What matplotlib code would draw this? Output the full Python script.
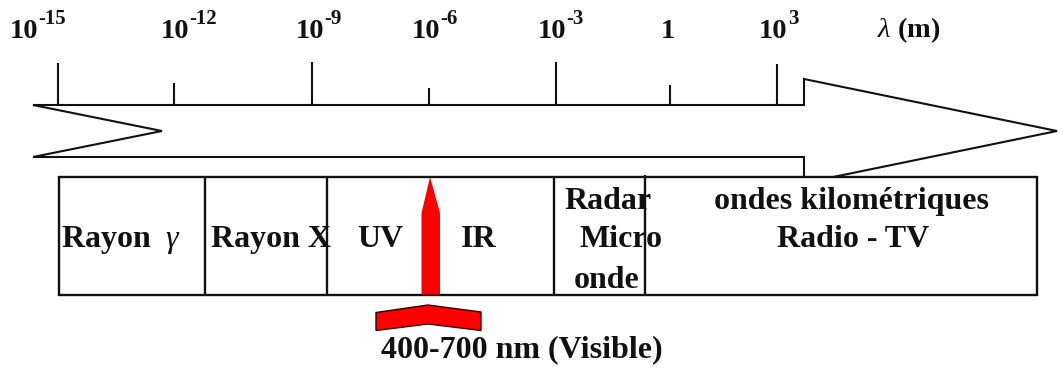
"""
Spectre électromagnétique : échelle des longueurs d'onde (schéma).
"""

import matplotlib

matplotlib.use("Agg")
import matplotlib.pyplot as plt  # noqa: E402
from matplotlib.patches import Polygon, Rectangle  # noqa: E402

plt.rcParams["font.family"] = ["Liberation Serif", "DejaVu Serif"]
plt.rcParams["mathtext.fontset"] = "custom"
plt.rcParams["mathtext.it"] = "Liberation Serif:italic"
plt.rcParams["mathtext.rm"] = "Liberation Serif"
plt.rcParams["mathtext.bf"] = "Liberation Serif:bold"

# Graduations de l'échelle (puissances de 10, en mètres)
exposants = [-15, -12, -9, -6, -3, 0, 3]
graduations_x = [58, 174, 312, 429, 556, 670, 777]
graduations_haut = [63, 83, 62, 88, 62, 85, 64]
etiquettes_cx = [24, 175, 310, 426, 552, 668, 773]

# Domaines du spectre (bornes des cases)
bornes_x = [58.5, 204.5, 327, 554, 645, 1037]
domaines = ["Rayon  $\\gamma$", "Rayon X", "UV", "IR",
            "Radar", "Micro", "onde", "ondes kilométriques", "Radio - TV"]
domaines_pos = [(121, 246.7), (271, 246.7), (380, 246.7), (479, 246.7),
                (608, 209.3), (621, 247), (606.5, 288.3),
                (851, 209.3), (853.5, 247.3)]

visible_x = 430.5
visible_texte = "400-700 nm (Visible)"

NOIR = "#111111"
ROUGE = "#ff0000"
LW = 1.5
TAILLE_ECHELLE = 20.5
TAILLE_EXPOSANT = 15

fig = plt.figure(figsize=(10.64, 3.71), dpi=100)
ax = fig.add_axes([0, 0, 1, 1])
ax.set_xlim(0, 1064)
ax.set_ylim(371, 0)
ax.axis("off")

# Grande flèche (bande de l'échelle)
haut, bas, milieu = 105, 157, 131
epaule, pointe = 804, 1057
fleche = Polygon(
    [(33, haut), (epaule, haut), (epaule, 79), (pointe, milieu),
     (epaule, 183), (epaule, bas), (33, bas), (162, milieu)],
    closed=True, facecolor="white", edgecolor=NOIR, lw=LW, zorder=1,
)
ax.add_patch(fleche)

# Traits de graduation
ax.vlines(graduations_x, graduations_haut, haut, color=NOIR, lw=LW, zorder=2)

# Étiquettes des graduations : "10" + exposant
for e, cx in zip(exposants, etiquettes_cx):
    if e == 0:
        ax.text(cx, 37.5, "1", ha="center", va="baseline",
                fontsize=TAILLE_ECHELLE, fontweight="bold", color=NOIR)
        continue
    ax.text(cx, 37.5, "10", ha="center", va="baseline",
            fontsize=TAILLE_ECHELLE, fontweight="bold", color=NOIR)
    ax.annotate(f"{e}", xy=(cx, 37.5),
                xytext=(0.5 * TAILLE_ECHELLE + 0.3, 9.5),
                textcoords="offset points", ha="left", va="baseline",
                fontsize=TAILLE_EXPOSANT, fontweight="bold", color=NOIR)

ax.text(877, 37.5, "$\\lambda$ (m)", ha="left", va="baseline",
        fontsize=TAILLE_ECHELLE, fontweight="bold", color=NOIR)

# Cases des domaines
y0, y1 = 177, 294.5
ax.add_patch(Rectangle((bornes_x[0], y0), bornes_x[-1] - bornes_x[0], y1 - y0,
                       facecolor="white", edgecolor=NOIR, lw=1.7, zorder=3))
ax.vlines(bornes_x[1:4], y0, y1, color=NOIR, lw=1.7, zorder=5)
ax.vlines(bornes_x[4], 175, y1 - 1, color=NOIR, lw=1.7, zorder=5)

for texte, (x, y) in zip(domaines, domaines_pos):
    ax.text(x, y, texte, ha="center", va="baseline", fontsize=23,
            fontweight="bold", color=NOIR, zorder=4)

# Flèche rouge du visible
ax.add_patch(Polygon(
    [(visible_x - 9, y1), (visible_x - 9, 213), (visible_x - 0.5, y0),
     (visible_x + 9.5, 213), (visible_x + 9.5, y1)],
    closed=True, facecolor=ROUGE, edgecolor="none", zorder=6,
))
ax.add_patch(Polygon(
    [(376, 312.5), (428, 305), (481, 312), (481, 330.5), (428, 324), (376, 330.5)],
    closed=True, facecolor=ROUGE, edgecolor="#330000", lw=1.0, zorder=6,
))
ax.text(521.5, 357.5, visible_texte, ha="center", va="baseline",
        fontsize=23, fontweight="bold", color=NOIR)

fig.savefig("out.png", dpi=100)
plt.close(fig)
